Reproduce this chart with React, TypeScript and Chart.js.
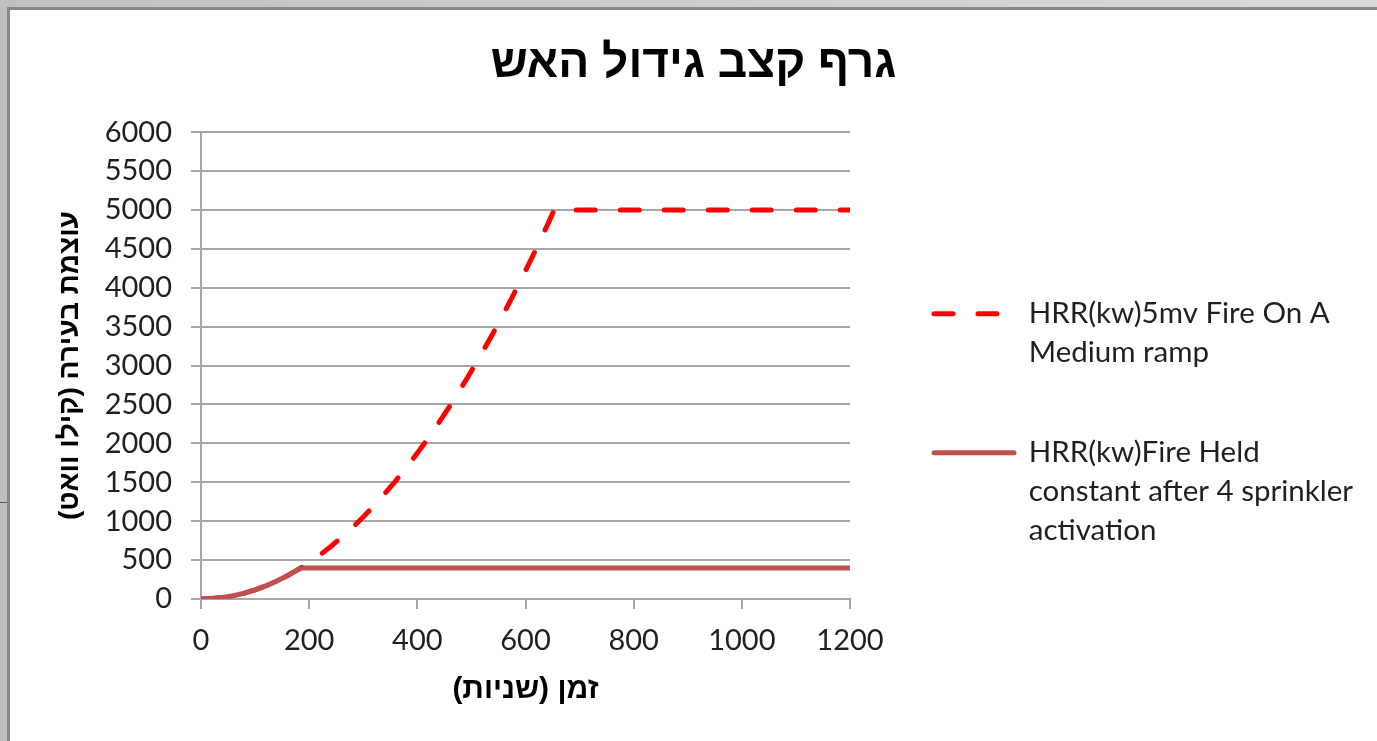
import React, { useEffect, useRef } from "react";
import { Chart, registerables } from "chart.js";

Chart.register(...registerables);

// ---- Texts ----
const chartTitle = "גרף קצב גידול האש";
const xAxisTitle = "זמן (שניות)";
const yAxisTitle = "עוצמת בעירה (קילו וואט)";
const mediumLabel = ["HRR(kw)5mv Fire On A", "Medium ramp", ""];
const sprinklerLabel = ["HRR(kw)Fire Held", "constant after 4 sprinkler\u00a0\u00a0\u00a0", "activation"];

// ---- Data: medium t-squared fire (dashed) ----
const mediumTimes = [
  0, 20, 40, 60, 80, 100, 120, 140, 160, 180, 200, 220, 240, 260, 280, 300, 320,
  340, 360, 380, 400, 420, 440, 460, 480, 500, 520, 540, 560, 580, 600, 620, 640,
  653, 700, 800, 900, 1000, 1100, 1200,
];
const mediumHrr = [
  0, 5, 19, 42, 75, 117, 169, 230, 300, 380, 469, 567, 675, 792, 919, 1055, 1200,
  1355, 1519, 1692, 1875, 2067, 2269, 2480, 2700, 2930, 3169, 3417, 3675, 3942, 4219, 4505, 4800,
  5000, 5000, 5000, 5000, 5000, 5000, 5000,
];

// ---- Data: fire held constant after sprinkler activation (solid) ----
const sprinklerTimes = [0, 20, 40, 60, 80, 100, 120, 140, 160, 180, 186, 400, 600, 800, 1000, 1200];
const sprinklerHrr = [0, 5, 19, 42, 75, 117, 169, 230, 300, 380, 400, 400, 400, 400, 400, 400];

// ---- Axis ranges ----
const xMin = 0;
const xMax = 1200;
const xStep = 200;
const yMin = 0;
const yMax = 6000;
const yStep = 500;

const mediumColor = "#ff0000";
const sprinklerColor = "#c0504d";
const gridColor = "#a6a6a6";
const textColor = "#1f1f1f";
const hebrewFont = "'Liberation Sans', 'DejaVu Sans', Arial, sans-serif";
const latinFont = "Lato, 'Open Sans', sans-serif";

export default function App() {
  const canvasRef = useRef<HTMLCanvasElement | null>(null);

  useEffect(() => {
    if (!canvasRef.current) return;
    const dashPattern = [19, 25];
    const plainNumber = (v: any) => String(v);
    const chart = new Chart(canvasRef.current, {
      type: "line",
      data: {
        datasets: [
          {
            label: sprinklerLabel.join(" "),
            data: sprinklerTimes.map((t, i) => ({ x: t, y: sprinklerHrr[i] })),
            borderColor: sprinklerColor,
            backgroundColor: sprinklerColor,
            borderWidth: 5,
            pointRadius: 0,
            borderCapStyle: "round",
            borderJoinStyle: "round",
            tension: 0,
            fill: false,
          },
          {
            label: mediumLabel.join(" "),
            data: mediumTimes.map((t, i) => ({ x: t, y: mediumHrr[i] })),
            borderColor: mediumColor,
            backgroundColor: mediumColor,
            borderWidth: 5,
            borderDash: dashPattern,
            pointRadius: 0,
            borderCapStyle: "round",
            borderJoinStyle: "round",
            tension: 0,
            fill: false,
          },
        ],
      },
      options: {
        animation: false,
        responsive: true,
        maintainAspectRatio: false,
        layout: { padding: 0 },
        scales: {
          x: {
            type: "linear",
            min: xMin,
            max: xMax,
            ticks: {
              stepSize: xStep,
              padding: 14,
              color: textColor,
              font: { family: latinFont, size: 29, lineHeight: 1.2 },
              maxRotation: 0,
              callback: plainNumber,
            },
            grid: {
              drawOnChartArea: false,
              drawTicks: true,
              tickLength: 10,
              color: gridColor,
              lineWidth: 2,
            },
            border: { color: gridColor, width: 2 },
            title: {
              display: true,
              text: xAxisTitle,
              color: "#000",
              font: { family: hebrewFont, size: 30, weight: "bold", lineHeight: 1.2 },
              padding: { top: 0, bottom: 33 },
            },
            afterFit: (s: any) => {
              s.height = 142;
            },
          },
          y: {
            type: "linear",
            position: "left",
            min: yMin,
            max: yMax,
            ticks: {
              stepSize: yStep,
              padding: 19,
              color: textColor,
              font: { family: latinFont, size: 29, lineHeight: 1.2 },
              callback: plainNumber,
            },
            grid: {
              drawOnChartArea: true,
              drawTicks: true,
              tickLength: 10,
              color: gridColor,
              lineWidth: 2,
            },
            border: { color: gridColor, width: 2 },
            title: {
              display: true,
              text: yAxisTitle,
              color: "#000",
              font: { family: hebrewFont, size: 28, weight: "bold", lineHeight: 1.2 },
              padding: { top: 43, bottom: 0 },
            },
            afterFit: (s: any) => {
              s.width = 191;
            },
          },
          y2: {
            type: "linear",
            position: "right",
            display: true,
            grid: { display: false, drawTicks: false },
            ticks: { display: false },
            border: { display: false },
            afterFit: (s: any) => {
              s.width = 62;
            },
          },
        },
        plugins: {
          tooltip: { enabled: false },
          title: {
            display: true,
            text: chartTitle,
            color: "#000",
            font: { family: hebrewFont, size: 46, weight: "bold", lineHeight: 1.2 },
            padding: { top: 27, bottom: 40 },
          },
          legend: {
            display: true,
            position: "right",
            align: "center",
            maxWidth: 465,
            title: {
              display: true,
              text: " ",
              font: { size: 10, lineHeight: 1 },
              padding: { top: 93, bottom: 0 },
            },
            labels: {
              usePointStyle: true,
              pointStyleWidth: 80,
              padding: 22,
              color: textColor,
              font: { family: latinFont, size: 29.5, lineHeight: 39 / 29.5 },
              generateLabels: () => [
                {
                  text: mediumLabel as any,
                  fillStyle: "rgba(0,0,0,0)",
                  strokeStyle: mediumColor,
                  lineWidth: 5,
                  lineDash: dashPattern,
                  lineCap: "round",
                  pointStyle: "line",
                  hidden: false,
                  datasetIndex: 1,
                  fontColor: textColor,
                },
                {
                  text: sprinklerLabel as any,
                  fillStyle: "rgba(0,0,0,0)",
                  strokeStyle: sprinklerColor,
                  lineWidth: 5,
                  lineDash: [],
                  lineCap: "round",
                  pointStyle: "line",
                  hidden: false,
                  datasetIndex: 0,
                  fontColor: textColor,
                },
              ],
            },
          },
        },
      },
    } as any);
    return () => chart.destroy();
  }, []);

  return (
    <div
      style={{
        position: "fixed",
        left: 0,
        top: 0,
        width: 1377,
        height: 741,
        overflow: "hidden",
        background: "linear-gradient(90deg, #c0c0c0, #dadada)",
      }}
    >
      <div style={{ position: "absolute", left: 0, top: 502, width: 7, height: 1, background: "#555" }} />
      <div
        style={{
          position: "absolute",
          left: 7,
          top: 7,
          right: 0,
          bottom: 0,
          borderTop: "3px solid #888",
          borderLeft: "3px solid #888",
          background: "#fff",
        }}
      >
        <div style={{ position: "absolute", left: 0, top: 0, width: 1367, height: 731 }}>
          <canvas ref={canvasRef} />
        </div>
      </div>
    </div>
  );
}
